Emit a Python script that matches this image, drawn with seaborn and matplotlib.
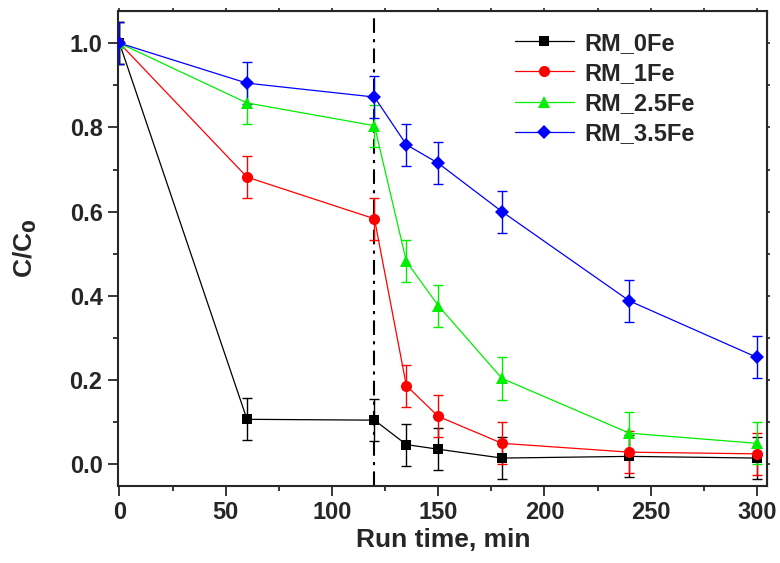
import pandas as pd
import matplotlib.pyplot as plt
from matplotlib.ticker import MultipleLocator
import seaborn as sns

# run time (min) and C/C0 for each sample
time = [0, 60, 120, 135, 150, 180, 240, 300]
rm_0fe = [1.0, 0.107, 0.105, 0.047, 0.036, 0.015, 0.019, 0.015]
rm_1fe = [1.0, 0.682, 0.583, 0.187, 0.114, 0.050, 0.029, 0.025]
rm_25fe = [1.0, 0.858, 0.804, 0.482, 0.377, 0.204, 0.074, 0.050]
rm_35fe = [1.0, 0.905, 0.872, 0.759, 0.715, 0.600, 0.388, 0.254]
err = [0.05, 0.05, 0.05, 0.05, 0.05, 0.05, 0.05, 0.05]

samples = ['RM_0Fe', 'RM_1Fe', 'RM_2.5Fe', 'RM_3.5Fe']
values = [rm_0fe, rm_1fe, rm_25fe, rm_35fe]
colors = ['black', '#ff0000', '#00ee00', '#0000ff']
markers = ['s', 'o', '^', 'D']
msizes = [6.8, 8, 8.4, 6.8]

sns.set_style('ticks')
plt.rcParams['font.family'] = ['Liberation Sans', 'DejaVu Sans']
plt.rcParams['font.weight'] = 'bold'
plt.rcParams['mathtext.default'] = 'bf'

fig = plt.figure(figsize=(7.8, 5.63), dpi=100)
ax = fig.add_axes([0.151, 0.137, 0.832, 0.844])

ax.axvline(120, color='black', linestyle=(0, (7, 3, 1.5, 3)), linewidth=1.5, zorder=1)

for s, v, col, m, ms in zip(samples, values, colors, markers, msizes):
    ax.errorbar(time, v, yerr=err, fmt='none', ecolor=col, elinewidth=1,
                capsize=3.6, capthick=1, zorder=2)
    d = pd.DataFrame({'time': time, 'C': v})
    sns.lineplot(data=d, x='time', y='C', color=col, marker=m, markersize=ms,
                 markeredgewidth=0, linewidth=0.9, label=s, ax=ax, zorder=3)

ax.set_xlim(-0.8, 304.6)
ax.set_ylim(-0.051, 1.077)
ax.xaxis.set_major_locator(MultipleLocator(50))
ax.xaxis.set_minor_locator(MultipleLocator(25))
ax.yaxis.set_major_locator(MultipleLocator(0.2))
ax.yaxis.set_minor_locator(MultipleLocator(0.1))
ax.yaxis.set_major_formatter(plt.FormatStrFormatter('%.1f'))
ax.tick_params(which='major', length=7, width=1.3, labelsize=17, pad=4)
ax.tick_params(which='minor', length=3.5, width=1.3)
for sp in ax.spines.values():
    sp.set_linewidth(1.5)
    sp.set_visible(True)

# small ticks on top and right side
top = ax.secondary_xaxis('top')
top.xaxis.set_major_locator(MultipleLocator(25))
top.tick_params(length=2.5, width=1.2, labeltop=False)
right = ax.secondary_yaxis('right')
right.yaxis.set_major_locator(MultipleLocator(0.1))
right.tick_params(length=2.5, width=1.2, labelright=False)

ax.set_xlabel('Run time, min', fontsize=19, fontweight='bold')
ax.set_ylabel('C/C$_0$', fontsize=19, fontweight='bold')
ax.xaxis.set_label_coords(0.501, -0.089)
ax.yaxis.set_label_coords(-0.122, 0.5)

ax.legend(loc='upper left', bbox_to_anchor=(0.612, 0.956), frameon=False,
          fontsize=17, handlelength=2.5, handletextpad=0.42, labelspacing=0.3,
          borderpad=0, borderaxespad=0)

plt.savefig('out.png', dpi=100)
